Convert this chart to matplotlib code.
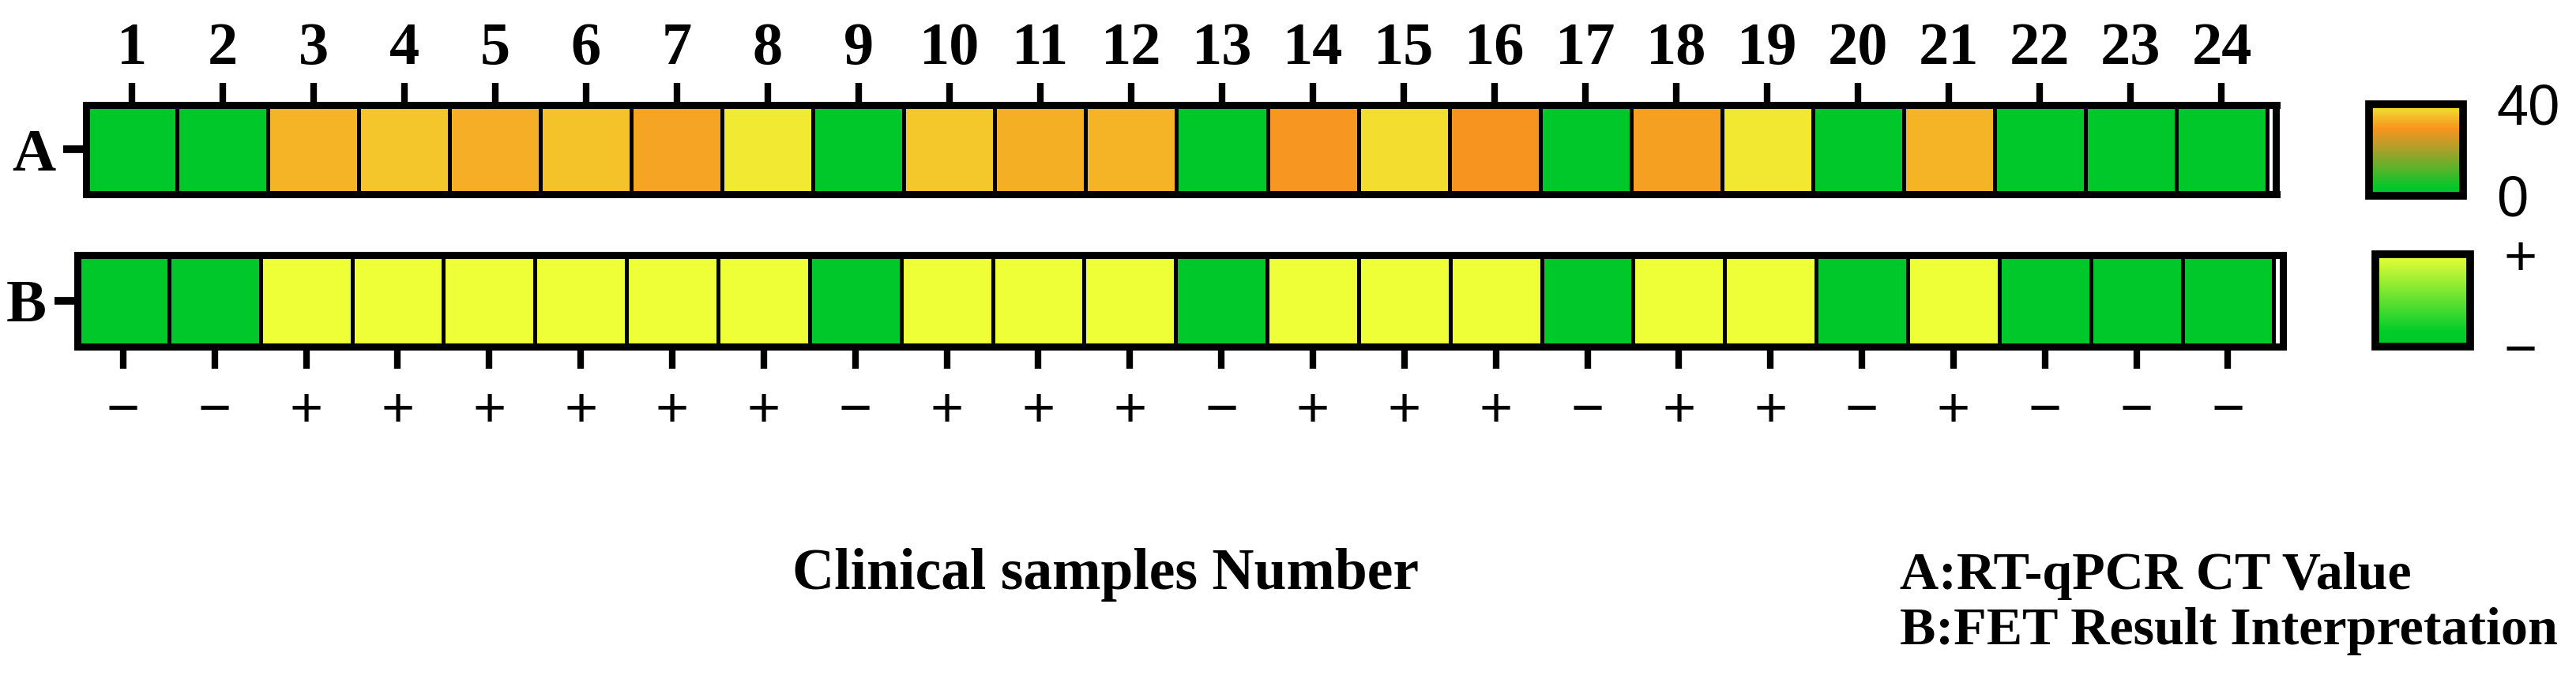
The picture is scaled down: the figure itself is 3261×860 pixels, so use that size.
import numpy as np
import matplotlib
matplotlib.use("Agg")
import matplotlib.pyplot as plt
from matplotlib.colors import LinearSegmentedColormap, Normalize
from matplotlib.cm import ScalarMappable

# ---------------- data ----------------
samples = [str(i) for i in range(1, 25)]
# Row A: RT-qPCR CT value (0 = not detected)
ct_values = [0, 0, 33.0, 35.4, 32.4, 35.1, 31.1, 39.8, 0, 35.5, 32.6, 33.0,
             0, 29.4, 38.4, 29.2, 0, 30.7, 39.6, 0, 33.0, 0, 0, 0]
# Row B: FET result interpretation (1 = positive, 0 = negative)
fet_result = [0, 0, 1, 1, 1, 1, 1, 1, 0, 1, 1, 1,
              0, 1, 1, 1, 0, 1, 1, 0, 1, 0, 0, 0]
row_labels = ["A", "B"]
ct_range = [0, 40]
xlabel = "Clinical samples Number"
legend_lines = ["A:RT-qPCR CT Value", "B:FET Result Interpretation"]

# ---------------- style ----------------
SERIF = ["Liberation Serif", "DejaVu Serif"]
SANS = ["Liberation Sans", "DejaVu Sans"]

cmap_a = LinearSegmentedColormap.from_list(
    "ct", [(0.0, "#00C82A"), (0.08, "#00C82A"), (0.3, "#5CB22A"),
           (0.5, "#AAA02A"), (0.73, "#F7941F"), (1.0, "#F2EA33")])
cmap_b = LinearSegmentedColormap.from_list(
    "fet", [(0.0, "#00C82A"), (0.15, "#00CC2A"), (1.0, "#EEFF38")])

W, H = 3262, 860
fig = plt.figure(figsize=(W / 100, H / 100), dpi=100)
fig.patch.set_facecolor("white")

def frac(x0, y0, x1, y1):
    return [x0 / W, 1 - y1 / H, (x1 - x0) / W, (y1 - y0) / H]

axA = fig.add_axes(frac(109, 132.5, 2881.5, 245.5))
axB = fig.add_axes(frac(98, 322.5, 2890, 438.5))
caxA = fig.add_axes(frac(2999.5, 131.5, 3118.5, 247.5))
caxB = fig.add_axes(frac(3007.5, 321.5, 3127.5, 438.5))

n = len(samples)
x_pos = np.arange(1, n + 1)
x_edges = np.arange(0.5, n + 1, 1.0)

def draw_row(ax, vals, cmap, vmin, vmax, label):
    ax.pcolormesh(x_edges, [0, 1], np.array(vals, dtype=float)[None, :],
                  cmap=cmap, vmin=vmin, vmax=vmax,
                  edgecolors="black", linewidth=3.5)
    ax.set_xlim(0.5, n + 0.6)
    ax.set_ylim(0, 1)
    ax.set_yticks([0.5])
    ax.set_yticklabels([label], fontsize=55, fontweight="bold", family=SERIF)
    ax.tick_params(axis="y", length=21, width=7, pad=7)
    for s in ax.spines.values():
        s.set_linewidth(6.5)
        s.set_zorder(5)
    ax.set_facecolor("white")

draw_row(axA, ct_values, cmap_a, ct_range[0], ct_range[1], row_labels[0])
axA.set_xticks(x_pos)
axA.set_xticklabels(samples, fontsize=55, fontweight="bold", family=SERIF)
axA.tick_params(axis="x", top=True, bottom=False, labeltop=True,
                labelbottom=False, length=20.5, width=6, pad=5)

draw_row(axB, fet_result, cmap_b, 0, 1, row_labels[1])
signs = ["+" if v else "\u2212" for v in fet_result]
axB.set_xticks(x_pos)
axB.set_xticklabels(signs, fontsize=52, family=SANS)
axB.tick_params(axis="x", top=False, bottom=True, labeltop=False,
                labelbottom=True, length=20.5, width=6, pad=15)

# colour keys
cbA = fig.colorbar(ScalarMappable(Normalize(*ct_range), cmap_a), cax=caxA)
cbA.set_ticks(ct_range)
cbA.set_ticklabels([str(v) for v in ct_range])
cbA.outline.set_linewidth(7)
caxA.tick_params(length=0, labelsize=52, pad=30)
for t in caxA.get_yticklabels():
    t.set_family(SANS)

cbB = fig.colorbar(ScalarMappable(Normalize(0, 1), cmap_b), cax=caxB)
cbB.set_ticks([0, 1])
cbB.set_ticklabels(["\u2212", "+"])
cbB.outline.set_linewidth(7)
caxB.tick_params(length=0, labelsize=52, pad=30)
for t in caxB.get_yticklabels():
    t.set_family(SANS)

# texts
fig.text(1400 / W, 1 - 728 / H, xlabel, ha="center", va="center",
         fontsize=53, fontweight="bold", family=SERIF)
fig.text(2405 / W, 1 - 730 / H, legend_lines[0], ha="left", va="center",
         fontsize=49, fontweight="bold", family=SERIF)
fig.text(2405 / W, 1 - 800 / H, legend_lines[1], ha="left", va="center",
         fontsize=49, fontweight="bold", family=SERIF)

fig.savefig("out.png", dpi=100, facecolor="white")
